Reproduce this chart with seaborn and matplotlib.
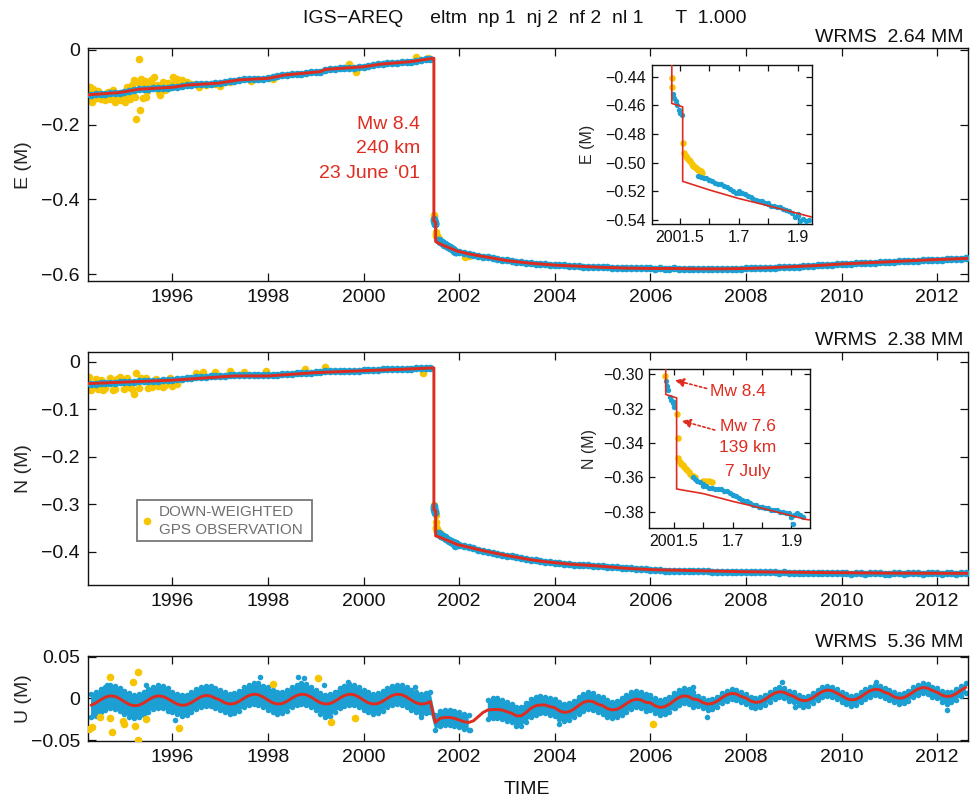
import numpy as np
import matplotlib
matplotlib.use('Agg')
import matplotlib.pyplot as plt
import seaborn as sns
from matplotlib.patches import Rectangle

nan = np.nan

# DATA (decimal years, metres)
# epochs of the daily solutions, thinned to 0.1 yr
t_obs = [1994.3, 1994.4, 1994.5, 1994.6, 1994.7, 1994.8, 1994.9,
         1995.0, 1995.1, 1995.2, 1995.3, 1995.4, 1995.5, 1995.6, 1995.7, 1995.8, 1995.9,
         1996.0, 1996.1, 1996.2, 1996.3, 1996.4, 1996.5, 1996.6, 1996.7, 1996.8, 1996.9,
         1997.0, 1997.1, 1997.2, 1997.3, 1997.4, 1997.5, 1997.6, 1997.7, 1997.8, 1997.9,
         1998.0, 1998.1, 1998.2, 1998.3, 1998.4, 1998.5, 1998.6, 1998.7, 1998.8, 1998.9,
         1999.0, 1999.1, 1999.2, 1999.3, 1999.4, 1999.5, 1999.6, 1999.7, 1999.8, 1999.9,
         2000.0, 2000.1, 2000.2, 2000.3, 2000.4, 2000.5, 2000.6, 2000.7, 2000.8, 2000.9,
         2001.0, 2001.1, 2001.2, 2001.3, 2001.4, 2001.5, 2001.6, 2001.7, 2001.8, 2001.9,
         2002.0, 2002.1, 2002.2, 2002.3, 2002.4, 2002.5, 2002.6, 2002.7, 2002.8, 2002.9,
         2003.0, 2003.1, 2003.2, 2003.3, 2003.4, 2003.5, 2003.6, 2003.7, 2003.8, 2003.9,
         2004.0, 2004.1, 2004.2, 2004.3, 2004.4, 2004.5, 2004.6, 2004.7, 2004.8, 2004.9,
         2005.0, 2005.1, 2005.2, 2005.3, 2005.4, 2005.5, 2005.6, 2005.7, 2005.8, 2005.9,
         2006.0, 2006.1, 2006.2, 2006.3, 2006.4, 2006.5, 2006.6, 2006.7, 2006.8, 2006.9,
         2007.0, 2007.1, 2007.2, 2007.3, 2007.4, 2007.5, 2007.6, 2007.7, 2007.8, 2007.9,
         2008.0, 2008.1, 2008.2, 2008.3, 2008.4, 2008.5, 2008.6, 2008.7, 2008.8, 2008.9,
         2009.0, 2009.1, 2009.2, 2009.3, 2009.4, 2009.5, 2009.6, 2009.7, 2009.8, 2009.9,
         2010.0, 2010.1, 2010.2, 2010.3, 2010.4, 2010.5, 2010.6, 2010.7, 2010.8, 2010.9,
         2011.0, 2011.1, 2011.2, 2011.3, 2011.4, 2011.5, 2011.6, 2011.7, 2011.8, 2011.9,
         2012.0, 2012.1, 2012.2, 2012.3, 2012.4, 2012.5, 2012.6]

e_obs = [-0.120, -0.119, -0.118, -0.117, -0.116, -0.115, -0.114,
         -0.112, -0.110, -0.107, -0.105, -0.104, -0.104, -0.103, -0.102, -0.101, -0.101,
         -0.100, -0.098, -0.096, -0.094, -0.093, -0.092, -0.092, -0.091, -0.090, -0.089,
         -0.088, -0.086, -0.084, -0.082, -0.080, -0.079, -0.079, -0.078, -0.077, -0.077,
         -0.076, -0.073, -0.070, -0.068, -0.066, -0.065, -0.064, -0.063, -0.061, -0.060,
         -0.059, -0.058, -0.053, -0.051, -0.050, -0.049, -0.049, -0.048, -0.047, -0.046,
         -0.045, -0.043, -0.040, -0.038, -0.037, -0.036, -0.035, -0.034, -0.033, -0.032,
         -0.031, -0.029, -0.027, -0.025, -0.023, -0.465, -0.512, -0.520, -0.528, -0.536,
         -0.541, -0.544, -0.547, -0.549, -0.551, -0.553, -0.555, -0.557, -0.559, -0.561,
         -0.563, -0.565, -0.567, -0.568, -0.570, -0.571, -0.572, -0.573, -0.574, -0.575,
         -0.576, -0.577, -0.577, -0.578, -0.578, -0.579, -0.580, -0.580, -0.581, -0.581,
         -0.582, -0.582, -0.583, -0.583, -0.584, -0.584, -0.584, -0.585, -0.585, -0.585,
         -0.585, -0.586, -0.585, -0.586, -0.586, -0.585, -0.586, -0.587, -0.586, -0.586,
         -0.586, -0.587, -0.587, -0.586, -0.587, -0.586, -0.586, -0.587, -0.587, -0.586,
         -0.585, -0.585, -0.585, -0.584, -0.584, -0.583, -0.583, -0.582, -0.582, -0.581,
         -0.580, -0.580, -0.579, -0.578, -0.578, -0.577, -0.576, -0.576, -0.575, -0.574,
         -0.573, -0.573, -0.572, -0.571, -0.571, -0.570, -0.569, -0.569, -0.568, -0.568,
         -0.567, -0.567, -0.566, -0.565, -0.565, -0.564, -0.564, -0.563, -0.563, -0.562,
         -0.561, -0.561, -0.560, -0.560, -0.559, -0.559, -0.558]

n_obs = [-0.046, -0.046, -0.045, -0.045, -0.044, -0.044, -0.043,
         -0.043, -0.042, -0.042, -0.041, -0.041, -0.041, -0.040, -0.040, -0.039, -0.039,
         -0.038, -0.037, -0.036, -0.035, -0.034, -0.033, -0.033, -0.032, -0.031, -0.031,
         -0.030, -0.030, -0.029, -0.029, -0.029, -0.029, -0.029, -0.029, -0.029, -0.029,
         -0.028, -0.027, -0.027, -0.026, -0.025, -0.025, -0.024, -0.024, -0.023, -0.023,
         -0.022, -0.021, -0.020, -0.020, -0.020, -0.019, -0.019, -0.019, -0.019, -0.019,
         -0.018, -0.018, -0.017, -0.017, -0.016, -0.016, -0.016, -0.015, -0.015, -0.015,
         -0.015, -0.014, -0.014, -0.013, -0.013, -0.316, -0.365, -0.370, -0.377, -0.383,
         -0.386, -0.388, -0.391, -0.393, -0.396, -0.398, -0.400, -0.402, -0.404, -0.406,
         -0.408, -0.410, -0.412, -0.414, -0.416, -0.417, -0.418, -0.420, -0.421, -0.422,
         -0.423, -0.424, -0.425, -0.426, -0.427, -0.428, -0.428, -0.429, -0.430, -0.430,
         -0.431, -0.432, -0.433, -0.433, -0.434, -0.435, -0.435, -0.436, -0.436, -0.437,
         -0.438, -0.438, -0.439, -0.440, -0.440, -0.440, -0.440, -0.440, -0.441, -0.441,
         -0.441, -0.441, -0.441, -0.442, -0.442, -0.442, -0.442, -0.442, -0.442, -0.443,
         -0.442, -0.443, -0.443, -0.443, -0.443, -0.443, -0.443, -0.444, -0.443, -0.444,
         -0.444, -0.444, -0.444, -0.444, -0.444, -0.444, -0.444, -0.445, -0.444, -0.445,
         -0.445, -0.445, -0.446, -0.445, -0.445, -0.446, -0.445, -0.445, -0.445, -0.446,
         -0.446, -0.445, -0.445, -0.446, -0.445, -0.445, -0.445, -0.446, -0.445, -0.445,
         -0.445, -0.446, -0.445, -0.445, -0.446, -0.445, -0.445]

# vertical: model curve and the upper / lower edge of the scatter band
u_fit = [-0.0083, -0.0056, -0.0019, 0.0014, 0.0029, 0.0023, -0.0004,
         -0.0041, -0.0074, -0.0089, -0.0083, -0.0056, -0.0019, 0.0014, 0.0029, 0.0023, -0.0004,
         -0.0036, -0.0069, -0.0084, -0.0078, -0.0051, -0.0014, 0.0019, 0.0034, 0.0028, 0.0001,
         -0.0021, -0.0054, -0.0069, -0.0063, -0.0036, 0.0001, 0.0034, 0.0049, 0.0043, 0.0016,
         -0.0021, -0.0054, -0.0069, -0.0063, -0.0036, 0.0001, 0.0034, 0.0049, 0.0043, 0.0016,
         -0.0021, -0.0054, -0.0069, -0.0063, -0.0036, 0.0001, 0.0034, 0.0049, 0.0043, 0.0016,
         -0.0021, -0.0054, -0.0069, -0.0063, -0.0036, 0.0001, 0.0034, 0.0049, 0.0043, 0.0016,
         -0.0021, -0.0054, -0.0069, -0.0063, -0.0040, -0.0290, -0.0240, -0.0230, -0.0230, -0.0240,
         -0.0260, -0.0280, -0.0290, -0.0270, -0.0220, -0.0170, -0.0140, -0.0135, -0.0135, -0.0140,
         -0.0160, -0.0180, -0.0210, -0.0210, -0.0170, -0.0120, -0.0090, -0.0080, -0.0080, -0.0100,
         -0.0113, -0.0151, -0.0169, -0.0161, -0.0130, -0.0087, -0.0049, -0.0031, -0.0039, -0.0070,
         -0.0087, -0.0122, -0.0139, -0.0132, -0.0103, -0.0063, -0.0028, -0.0011, -0.0018, -0.0047,
         -0.0053, -0.0091, -0.0109, -0.0101, -0.0070, -0.0027, 0.0011, 0.0029, 0.0021, -0.0010,
         -0.0017, -0.0052, -0.0069, -0.0062, -0.0033, 0.0007, 0.0042, 0.0059, 0.0052, 0.0023,
         0.0003, -0.0032, -0.0049, -0.0042, -0.0013, 0.0027, 0.0062, 0.0079, 0.0072, 0.0043,
         0.0023, -0.0012, -0.0029, -0.0022, 0.0007, 0.0047, 0.0082, 0.0099, 0.0092, 0.0063,
         0.0033, -0.0002, -0.0019, -0.0012, 0.0017, 0.0057, 0.0092, 0.0109, 0.0102, 0.0073,
         0.0053, 0.0018, 0.0001, 0.0008, 0.0037, 0.0077, 0.0112, 0.0129, 0.0122, 0.0093,
         0.0073, 0.0038, 0.0021, 0.0028, 0.0057, 0.0097, 0.0132]

u_hi = [0.005, 0.007, 0.011, 0.014, 0.016, 0.015, 0.012,
        0.009, 0.006, 0.004, 0.005, 0.008, 0.011, 0.014, 0.016, 0.015, 0.012,
        0.008, 0.005, 0.004, 0.004, 0.007, 0.011, 0.014, 0.015, 0.015, 0.012,
        0.010, 0.007, 0.005, 0.006, 0.009, 0.013, 0.016, 0.018, 0.018, 0.015,
        0.013, 0.010, 0.008, 0.007, 0.010, 0.013, 0.016, 0.018, 0.017, 0.014,
        0.010, 0.006, 0.004, 0.005, 0.008, 0.012, 0.015, 0.017, 0.016, 0.013,
        0.010, 0.007, 0.005, 0.006, 0.009, 0.012, 0.015, 0.016, 0.016, 0.013,
        0.010, 0.007, 0.005, 0.006, 0.008, -0.020, -0.015, -0.014, -0.014, -0.015,
        -0.017, -0.019, -0.020, nan, nan, nan, -0.002, 0.000, 0.000, -0.002,
        -0.005, -0.007, -0.010, -0.010, -0.006, -0.001, 0.002, 0.003, 0.002, 0.000,
        -0.001, -0.005, -0.007, -0.006, -0.003, 0.001, 0.005, 0.007, 0.006, 0.003,
        0.001, -0.002, -0.004, -0.003, 0.000, 0.004, 0.007, 0.009, 0.008, 0.005,
        0.004, 0.000, -0.002, -0.001, 0.002, 0.006, 0.010, 0.012, 0.011, 0.008,
        0.003, 0.000, -0.002, -0.001, 0.002, 0.006, 0.009, 0.011, 0.010, 0.007,
        0.005, 0.002, 0.000, 0.001, 0.004, 0.008, 0.011, 0.013, 0.012, 0.009,
        0.007, 0.004, 0.002, 0.003, 0.006, 0.010, 0.013, 0.015, 0.014, 0.011,
        0.008, 0.005, 0.003, 0.004, 0.007, 0.011, 0.014, 0.016, 0.015, 0.012,
        0.010, 0.007, 0.005, 0.006, 0.009, 0.013, 0.016, 0.018, 0.017, 0.014,
        0.012, 0.009, 0.007, 0.008, 0.011, 0.015, 0.018]

u_lo = [-0.023, -0.021, -0.017, -0.014, -0.012, -0.013, -0.015,
        -0.019, -0.022, -0.024, -0.023, -0.020, -0.016, -0.013, -0.012, -0.012, -0.015,
        -0.016, -0.019, -0.021, -0.020, -0.017, -0.013, -0.010, -0.009, -0.009, -0.012,
        -0.014, -0.017, -0.019, -0.018, -0.015, -0.011, -0.008, -0.007, -0.008, -0.010,
        -0.014, -0.017, -0.019, -0.018, -0.015, -0.011, -0.008, -0.007, -0.008, -0.011,
        -0.014, -0.019, -0.022, -0.021, -0.017, -0.012, -0.009, -0.008, -0.008, -0.011,
        -0.014, -0.017, -0.019, -0.018, -0.015, -0.011, -0.008, -0.007, -0.008, -0.010,
        -0.014, -0.017, -0.019, -0.018, -0.016, -0.038, -0.033, -0.032, -0.032, -0.033,
        -0.035, -0.037, -0.038, nan, nan, nan, -0.025, -0.024, -0.024, -0.025,
        -0.027, -0.029, -0.033, -0.033, -0.028, -0.023, -0.020, -0.018, -0.018, -0.020,
        -0.021, -0.025, -0.027, -0.026, -0.023, -0.019, -0.015, -0.013, -0.014, -0.017,
        -0.019, -0.022, -0.024, -0.023, -0.020, -0.016, -0.013, -0.011, -0.012, -0.015,
        -0.014, -0.018, -0.020, -0.019, -0.016, -0.012, -0.008, -0.006, -0.007, -0.010,
        -0.009, -0.012, -0.014, -0.013, -0.010, -0.006, -0.003, -0.001, -0.002, -0.005,
        -0.007, -0.010, -0.012, -0.011, -0.008, -0.004, -0.001, 0.001, 0.000, -0.003,
        -0.005, -0.008, -0.010, -0.009, -0.006, -0.002, 0.001, 0.003, 0.002, -0.001,
        -0.004, -0.007, -0.009, -0.008, -0.005, -0.001, 0.002, 0.004, 0.003, 0.000,
        -0.002, -0.005, -0.007, -0.006, -0.003, 0.001, 0.004, 0.006, 0.005, 0.002,
        0.000, -0.004, -0.007, -0.005, -0.002, 0.003, 0.006]

# isolated blue points of the vertical away from the band
t_u_out = [1994.63, 1995.44, 1996.06, 1997.83, 1998.64, 1998.75, 1999.18, 1999.30, 1999.68, 2001.08,
           2001.21, 2002.23, 2004.10, 2006.52, 2006.90, 2007.18, 2008.75, 2009.03, 2010.72, 2012.20]
u_out = [0.016, 0.016, -0.026, 0.025, 0.026, 0.024, 0.016, -0.021, 0.020, 0.014,
         -0.023, -0.038, -0.031, -0.012, 0.014, -0.022, 0.019, -0.010, 0.020, -0.014]

# dense post-seismic epochs (shown in the insets)
t_e_post = [2001.475, 2001.48, 2001.485, 2001.49, 2001.495, 2001.50, 2001.505,
            2001.56, 2001.57, 2001.58, 2001.59, 2001.60, 2001.61, 2001.62, 2001.63, 2001.64, 2001.65,
            2001.66, 2001.67, 2001.68, 2001.69, 2001.70, 2001.71, 2001.72, 2001.73, 2001.74, 2001.75,
            2001.76, 2001.77, 2001.78, 2001.79, 2001.80, 2001.81, 2001.82, 2001.83, 2001.84, 2001.85,
            2001.86, 2001.87, 2001.88, 2001.89, 2001.90, 2001.91, 2001.92, 2001.93, 2001.94]
e_post = [-0.452, -0.455, -0.457, -0.460, -0.463, -0.465, -0.467,
          -0.509, -0.510, -0.511, -0.511, -0.512, -0.513, -0.514, -0.515, -0.515, -0.516,
          -0.517, -0.518, -0.520, -0.521, -0.521, -0.521, -0.522, -0.523, -0.524, -0.525,
          -0.526, -0.527, -0.527, -0.528, -0.529, -0.530, -0.530, -0.531, -0.531, -0.532,
          -0.533, -0.534, -0.535, -0.538, -0.537, -0.541, -0.539, -0.541, -0.540]

t_n_post = [2001.472, 2001.476, 2001.48, 2001.485, 2001.49, 2001.495, 2001.50,
            2001.565, 2001.57, 2001.58, 2001.59, 2001.60, 2001.61, 2001.62, 2001.63, 2001.64, 2001.65,
            2001.66, 2001.67, 2001.68, 2001.69, 2001.70, 2001.71, 2001.72, 2001.73, 2001.74, 2001.75,
            2001.76, 2001.77, 2001.78, 2001.79, 2001.80, 2001.81, 2001.82, 2001.83, 2001.84, 2001.85,
            2001.86, 2001.87, 2001.88, 2001.89, 2001.90, 2001.905, 2001.91, 2001.92, 2001.93, 2001.94]
n_post = [-0.304, -0.307, -0.309, -0.313, -0.315, -0.317, -0.319,
          -0.360, -0.361, -0.362, -0.363, -0.364, -0.365, -0.366, -0.366, -0.367, -0.367,
          -0.367, -0.368, -0.368, -0.369, -0.370, -0.371, -0.372, -0.373, -0.374, -0.374,
          -0.375, -0.376, -0.376, -0.377, -0.377, -0.378, -0.378, -0.379, -0.379, -0.379,
          -0.380, -0.380, -0.381, -0.381, -0.383, -0.387, -0.382, -0.381, -0.382, -0.383]

# down-weighted observations
t_e_dw = [1994.27, 1994.28, 1994.30, 1994.32, 1994.40, 1994.50, 1994.60, 1994.70, 1994.80, 1994.90,
          1995.00, 1995.05, 1995.10, 1995.15, 1995.20, 1995.25, 1995.28, 1995.30, 1995.32, 1995.35,
          1995.40, 1995.45, 1995.55, 1995.62, 1995.75, 1995.90, 1996.02, 1996.10, 1996.30, 1996.55,
          1996.90, 1997.20, 1997.65, 1998.10, 1999.70, 1999.85, 2001.10, 2001.35,
          1994.35, 1994.45, 1994.55, 1994.65, 1994.75, 1994.85, 1994.95, 1995.02, 1995.12, 1995.18,
          1995.22, 1995.38, 1995.42, 1995.48, 1995.50, 1995.58, 1995.68, 1995.72, 1995.80, 1995.85,
          1995.95, 1996.05, 1996.15, 1996.20, 1996.40, 1996.70, 1997.00,
          2001.474, 2001.474, 2001.510, 2001.515, 2001.520, 2001.525, 2001.530, 2001.535, 2001.540,
          2001.545, 2001.550, 2001.555, 2001.560, 2001.565, 2001.570, 2001.575, 2002.12, 2002.20]
e_dw = [-0.100, -0.108, -0.135, -0.140, -0.128, -0.132, -0.135, -0.130, -0.138, -0.133,
        -0.128, -0.100, -0.118, -0.093, -0.080, -0.186, -0.085, -0.025, -0.161, -0.078,
        -0.090, -0.125, -0.080, -0.073, -0.120, -0.088, -0.072, -0.078, -0.085, -0.098,
        -0.092, -0.086, -0.083, -0.078, -0.037, -0.058, -0.018, -0.021,
        -0.105, -0.110, -0.120, -0.112, -0.108, -0.125, -0.118, -0.138, -0.130, -0.105,
        -0.125, -0.128, -0.082, -0.110, -0.098, -0.092, -0.095, -0.113, -0.085, -0.108,
        -0.095, -0.085, -0.090, -0.080, -0.092, -0.094, -0.097,
        -0.441, -0.447, -0.4865, -0.493, -0.495, -0.497, -0.498, -0.499, -0.501,
        -0.502, -0.503, -0.504, -0.505, -0.505, -0.506, -0.507, -0.553, -0.551]

t_n_dw = [1994.26, 1994.27, 1994.29, 1994.35, 1994.45, 1994.50, 1994.60, 1994.70, 1994.80, 1994.90,
          1995.00, 1995.10, 1995.20, 1995.24, 1995.30, 1995.45, 1995.57, 1995.70, 1995.85, 1996.00,
          1996.10, 1996.50, 1996.65, 1996.90, 1997.20, 1997.50, 1997.95, 1998.78, 1999.20, 2001.25,
          1994.40, 1994.55, 1994.75, 1994.85, 1995.05, 1995.15, 1995.35, 1995.50, 1995.65, 1995.80,
          1995.95,
          2001.469, 2001.512, 2001.513, 2001.515, 2001.520, 2001.525, 2001.530, 2001.535, 2001.540,
          2001.545, 2001.550, 2001.555, 2001.560, 2001.565, 2001.570, 2001.600, 2001.610, 2001.620,
          2001.630]
n_dw = [-0.0316, -0.056, -0.059, -0.050, -0.058, -0.0385, -0.055, -0.035, -0.057, -0.033,
        -0.058, -0.054, -0.068, -0.0245, -0.056, -0.035, -0.054, -0.052, -0.049, -0.052,
        -0.046, -0.023, -0.021, -0.021, -0.020, -0.021, -0.020, -0.0155, -0.012, -0.0235,
        -0.036, -0.060, -0.059, -0.036, -0.034, -0.057, -0.034, -0.055, -0.036, -0.053,
        -0.035,
        -0.301, -0.323, -0.337, -0.349, -0.351, -0.352, -0.353, -0.354, -0.355,
        -0.356, -0.357, -0.358, -0.359, -0.359, -0.360, -0.362, -0.362, -0.362,
        -0.363]

t_u_dw = [1994.70, 1995.29, 1995.18, 1994.49, 1994.70, 1994.26, 1994.31, 1994.73, 1994.97, 1995.00,
          1995.22, 1995.28, 1995.45, 1996.14, 1998.11, 1999.05, 1999.32, 1999.82, 2006.06]
u_dw = [0.026, 0.031, 0.020, -0.023, -0.024, -0.037, -0.034, -0.040, -0.027, -0.031,
        -0.033, -0.050, -0.025, -0.036, 0.017, 0.024, -0.028, -0.024, -0.031]

# trajectory model (two co-seismic jumps, 23 June and 7 July 2001)
t_e_fit = [1994.25, 1994.9, 1995.3, 1996.0, 1996.3, 1996.95, 1997.4, 1998.0, 1998.35, 1999.1,
           1999.2, 2000.0, 2000.35, 2001.0, 2001.472, 2001.472, 2001.509, 2001.509, 2001.6, 2001.7,
           2001.8, 2001.95, 2002.2, 2002.6, 2003.0, 2003.5, 2004.0, 2004.5, 2005.0, 2005.5,
           2006.0, 2006.5, 2007.0, 2007.5, 2008.0, 2008.5, 2009.0, 2009.5, 2010.0, 2010.5,
           2011.0, 2011.5, 2012.0, 2012.64]
e_fit = [-0.120, -0.114, -0.105, -0.100, -0.094, -0.089, -0.080, -0.076, -0.067, -0.058,
         -0.052, -0.045, -0.038, -0.031, -0.022, -0.4586, -0.461, -0.513, -0.519, -0.525,
         -0.530, -0.538, -0.546, -0.555, -0.564, -0.571, -0.576, -0.579, -0.582, -0.584,
         -0.585, -0.585, -0.586, -0.586, -0.585, -0.583, -0.580, -0.577, -0.573, -0.570,
         -0.567, -0.564, -0.561, -0.558]

t_n_fit = [1994.25, 1996.0, 1997.3, 1998.0, 1999.0, 2000.0, 2000.8, 2001.472, 2001.472, 2001.509,
           2001.509, 2001.6, 2001.7, 2001.8, 2001.95, 2002.3, 2002.6, 2003.0, 2003.5, 2003.8,
           2004.3, 2004.9, 2005.5, 2006.1, 2007.0, 2007.9, 2008.8, 2009.7, 2011.0, 2012.64]
n_fit = [-0.046, -0.039, -0.030, -0.030, -0.023, -0.019, -0.016, -0.013, -0.3118, -0.3138,
         -0.3668, -0.3695, -0.374, -0.378, -0.3845, -0.393, -0.400, -0.408, -0.417, -0.421,
         -0.426, -0.430, -0.435, -0.438, -0.440, -0.442, -0.443, -0.444, -0.445, -0.4455]

year_ticks = [1996, 1998, 2000, 2002, 2004, 2006, 2008, 2010, 2012]

BLUE = '#1c9fd2'
GOLD = '#f6c400'
RED = '#df2c20'
INK = '#111111'

sns.set_theme(style='ticks')
plt.rcParams['font.family'] = ['Liberation Sans', 'DejaVu Sans']
plt.rcParams['axes.unicode_minus'] = True

fig = plt.figure(figsize=(9.78, 8.01), dpi=100)


def style(ax, fs, length, pad):
    ax.tick_params(direction='in', top=True, right=True, length=length, width=0.9,
                   labelsize=fs, colors=INK, pad=pad)
    for sp in ax.spines.values():
        sp.set_linewidth(1.0)
        sp.set_color(INK)
    ax.set_facecolor('white')


def obs_panel(ax, tdw, vdw, tpost, vpost, vobs, tfit, vfit, sb, sy, lw):
    sns.scatterplot(x=tdw, y=vdw, ax=ax, color=GOLD, s=sy, linewidth=0, legend=False, zorder=2)
    sns.scatterplot(x=t_obs, y=vobs, ax=ax, color=BLUE, s=sb, linewidth=0, legend=False, zorder=3)
    sns.scatterplot(x=tpost, y=vpost, ax=ax, color=BLUE, s=sb, linewidth=0, legend=False, zorder=3)
    sns.lineplot(x=tfit, y=vfit, ax=ax, color=RED, lw=lw, sort=False, estimator=None, zorder=4)


def main_x(ax):
    ax.set_xlim(1994.243, 2012.636)
    ax.set_xticks(year_ticks)
    ax.set_xticklabels([str(y) for y in year_ticks])
    ax.set_xlabel('')


# ---- east ----
ax_e = fig.add_axes([0.0903, 0.6492, 0.8990, 0.2905])
obs_panel(ax_e, t_e_dw, e_dw, t_e_post, e_post, e_obs, t_e_fit, e_fit, 30, 30, 2.1)
main_x(ax_e)
ax_e.set_ylim(-0.6185, 0.0045)
ax_e.set_yticks([0, -0.2, -0.4, -0.6])
ax_e.set_yticklabels(['0', '\u22120.2', '\u22120.4', '\u22120.6'])
ax_e.set_ylabel('E (M)', fontsize=14)
ax_e.yaxis.set_label_coords(-0.064, 0.5)
style(ax_e, 14, 5.5, 6)
for txt, yv in [('Mw 8.4', -0.2008), ('240 km', -0.265), ('23 June \u201801', -0.332)]:
    ax_e.text(2001.18, yv, txt, ha='right', va='center', color=RED, fontsize=14)

# ---- north ----
ax_n = fig.add_axes([0.0903, 0.2697, 0.8990, 0.2905])
obs_panel(ax_n, t_n_dw, n_dw, t_n_post, n_post, n_obs, t_n_fit, n_fit, 30, 30, 2.1)
main_x(ax_n)
ax_n.set_ylim(-0.470, 0.0198)
ax_n.set_yticks([0, -0.1, -0.2, -0.3, -0.4])
ax_n.set_yticklabels(['0', '\u22120.1', '\u22120.2', '\u22120.3', '\u22120.4'])
ax_n.set_ylabel('N (M)', fontsize=14)
ax_n.yaxis.set_label_coords(-0.064, 0.5)
style(ax_n, 14, 5.5, 6)

# legend box
ax_n.add_patch(Rectangle((0.0551, 0.1904), 0.1997, 0.1749, transform=ax_n.transAxes,
                         facecolor='white', edgecolor='#777777', lw=1.3, zorder=6))
ax_n.plot([0.0664], [0.275], 'o', color=GOLD, ms=5.5, mec='none', transform=ax_n.transAxes, zorder=7)
ax_n.text(0.0806, 0.315, 'DOWN-WEIGHTED', transform=ax_n.transAxes, color='#707070',
          fontsize=11, va='center', ha='left', zorder=7)
ax_n.text(0.0806, 0.2364, 'GPS OBSERVATION', transform=ax_n.transAxes, color='#707070',
          fontsize=11, va='center', ha='left', zorder=7)

# ---- up ----
ax_u = fig.add_axes([0.0903, 0.0749, 0.8990, 0.1065])
ax_u.fill_between(t_obs, u_lo, u_hi, color=BLUE, lw=0, zorder=2)
sns.scatterplot(x=t_obs, y=u_hi, ax=ax_u, color=BLUE, s=16, linewidth=0, legend=False, zorder=2)
sns.scatterplot(x=t_obs, y=u_lo, ax=ax_u, color=BLUE, s=16, linewidth=0, legend=False, zorder=2)
sns.scatterplot(x=t_u_out, y=u_out, ax=ax_u, color=BLUE, s=16, linewidth=0, legend=False, zorder=2)
sns.scatterplot(x=t_u_dw, y=u_dw, ax=ax_u, color=GOLD, s=30, linewidth=0, legend=False, zorder=3)
sns.lineplot(x=t_obs, y=u_fit, ax=ax_u, color=RED, lw=2.1, sort=False, estimator=None, zorder=4)
main_x(ax_u)
ax_u.set_ylim(-0.0512, 0.0511)
ax_u.set_yticks([0.05, 0, -0.05])
ax_u.set_yticklabels(['0.05', '0', '\u22120.05'])
ax_u.set_ylabel('U (M)', fontsize=14)
ax_u.yaxis.set_label_coords(-0.064, 0.5)
style(ax_u, 14, 5.5, 6)


# ---- insets ----
def inset(rect, xlim, ylim, yticks, ylabels, label, lab_x, tpost, vpost, vobs, tdw, vdw, tfit, vfit):
    ax = fig.add_axes(rect)
    ax.set_zorder(10)
    obs_panel(ax, tdw, vdw, tpost, vpost, vobs, tfit, vfit, 15, 22, 1.2)
    ax.set_xlim(*xlim)
    ax.set_ylim(*ylim)
    ax.set_xticks([2001.5, 2001.6, 2001.7, 2001.8, 2001.9])
    ax.set_xticklabels(['2001.5', '', '1.7', '', '1.9'])
    ax.set_yticks(yticks)
    ax.set_yticklabels(ylabels)
    ax.set_xlabel('')
    ax.set_ylabel(label, fontsize=11.5)
    ax.yaxis.set_label_coords(lab_x, 0.5)
    style(ax, 11.5, 4, 4)
    return ax


ax_ei = inset([0.6662, 0.7203, 0.1637, 0.1985], (2001.403, 2001.948), (-0.5428, -0.4318),
              [-0.54, -0.52, -0.50, -0.48, -0.46, -0.44],
              ['\u22120.54', '\u22120.52', '\u22120.50', '\u22120.48', '\u22120.46', '\u22120.44'],
              'E (M)', -0.353, t_e_post, e_post, e_obs, t_e_dw, e_dw, t_e_fit, e_fit)

ax_ni = inset([0.6636, 0.3408, 0.1646, 0.1985], (2001.415, 2001.963), (-0.3895, -0.297),
              [-0.38, -0.36, -0.34, -0.32, -0.30],
              ['\u22120.38', '\u22120.36', '\u22120.34', '\u22120.32', '\u22120.30'],
              'N (M)', -0.325, t_n_post, n_post, n_obs, t_n_dw, n_dw, t_n_fit, n_fit)

arrow = dict(arrowstyle='-|>,head_length=0.45,head_width=0.22', linestyle=(0, (1.5, 1.5)),
             color=RED, lw=1.2, shrinkA=0, shrinkB=0)
ax_ni.annotate('', xy=(2001.503, -0.3035), xytext=(2001.611, -0.3083), arrowprops=arrow)
ax_ni.annotate('', xy=(2001.526, -0.3271), xytext=(2001.639, -0.3325), arrowprops=arrow)
ax_ni.text(2001.622, -0.3103, 'Mw 8.4', ha='left', va='center', color=RED, fontsize=12.5)
for txt, yv in [('Mw 7.6', -0.3306), ('139 km', -0.3429), ('7 July', -0.3567)]:
    ax_ni.text(2001.752, yv, txt, ha='center', va='center', color=RED, fontsize=12.5)

# ---- figure texts ----
fig.text(0.5368, 0.9775, 'IGS\u2212AREQ     eltm  np 1  nj 2  nf 2  nl 1      T  1.000',
         ha='center', va='center', fontsize=14, color=INK)
fig.text(0.9847, 0.9538, 'WRMS  2.64 MM', ha='right', va='center', fontsize=14, color=INK)
fig.text(0.9847, 0.5755, 'WRMS  2.38 MM', ha='right', va='center', fontsize=14, color=INK)
fig.text(0.9847, 0.1973, 'WRMS  5.36 MM', ha='right', va='center', fontsize=14, color=INK)
fig.text(0.5389, 1 - 789 / 801, 'TIME', ha='center', va='center', fontsize=14, color=INK)

fig.savefig('out.png', dpi=100)
